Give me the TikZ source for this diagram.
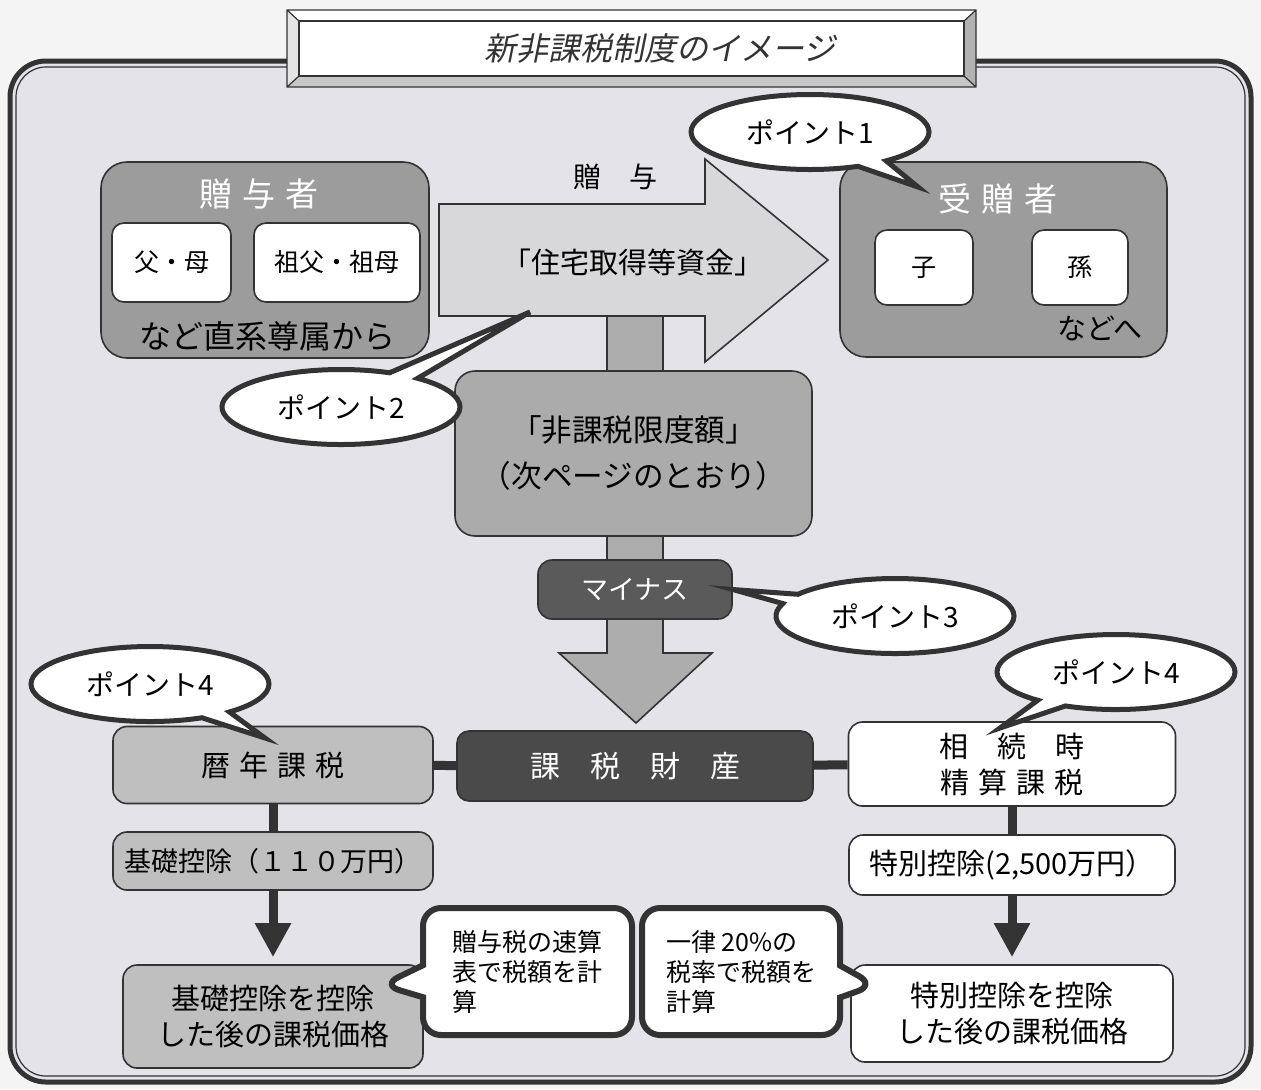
\documentclass[tikz,border=0pt]{standalone}
\usepackage{fontspec}
\setmainfont{Noto Sans CJK JP}
\newfontfamily\titlefont[FakeSlant=0.2]{Noto Sans CJK JP}
\usetikzlibrary{arrows.meta,shapes.callouts}
\definecolor{ink}{HTML}{333333}
\definecolor{outside}{HTML}{F4F4F4}
\definecolor{paper}{HTML}{E3E3E8}
\definecolor{partygray}{HTML}{9C9C9C}
\definecolor{fundgray}{HTML}{D8D8DA}
\definecolor{shaftgray}{HTML}{ADADAD}
\definecolor{limitgray}{HTML}{ABABAB}
\definecolor{minusgray}{HTML}{5A5A5A}
\definecolor{yeargray}{HTML}{BFBFBF}
\definecolor{basegray}{HTML}{4A4A4A}
\newcommand{\jgap}{\hspace{0.3em}}

\begin{document}
\begin{tikzpicture}[x=0.5pt,y=-0.5pt,
  box/.style={draw=ink,line width=0.8pt,rounded corners=6pt,
    align=center,inner sep=0pt},
  party/.style={box,fill=partygray,rounded corners=13pt},
  partyhead/.style={text=white,font=\fontsize{16.5}{20}\selectfont},
  member/.style={box,fill=white,font=\fontsize{12.5}{15}\selectfont},
  stage/.style={box,fill=yeargray,rounded corners=7pt,
    font=\fontsize{14.5}{18}\selectfont},
  whitebox/.style={stage,fill=white},
  link/.style={draw=ink,line width=4.5pt},
  down/.style={link,-{Triangle[length=17pt,width=17pt]},shorten >=3.5pt},
  pointcall/.style={ellipse callout,draw=ink,line width=2.5pt,fill=white,
    inner sep=0pt,minimum width=119pt,minimum height=37.5pt,
    callout pointer arc=16,font=\fontsize{14}{17}\selectfont},
  note/.style={rectangle callout,draw=ink,line width=3pt,fill=white,
    rounded corners=9pt,align=left,inner sep=0pt,minimum height=63.5pt,
    callout pointer width=16pt,font=\fontsize{12.5}{15}\selectfont}
]
\path[use as bounding box,fill=outside] (0,0) rectangle (1261,1089);
\draw[draw=ink,line width=2.5pt,fill=paper,rounded corners=18pt]
  (10,61) rectangle (1251,1082);
\draw[draw=ink,line width=0.6pt,rounded corners=15pt]
  (16,67) rectangle (1245,1076);

% bevelled title plate
\fill[black!10] (287,10) rectangle (976,87);
\fill[white] (287,10) -- (976,10) -- (964,21) -- (299,21) -- cycle;
\fill[black!30] (976,10) -- (976,87) -- (964,76) -- (964,21) -- cycle;
\fill[black!22] (287,87) -- (976,87) -- (964,76) -- (299,76) -- cycle;
\draw[ink,line width=0.6pt] (287,10) rectangle (976,87)
  (287,10) -- (299,21) (976,10) -- (964,21)
  (287,87) -- (299,76) (976,87) -- (964,76);
\node[draw=ink,line width=0.6pt,fill=white,inner sep=0pt,
  minimum width=332.5pt,minimum height=27.5pt] (titleface) at (631.5,48.5) {};
\node[font=\fontsize{16}{19}\selectfont\titlefont,text=ink] (title) at (660,48)
  {新非課税制度のイメージ};

\draw[draw=ink,line width=0.8pt,fill=shaftgray] (607,300) -- (607,653)
  -- (559,653) -- (636,723) -- (712,653) -- (663,653) -- (663,300);
\draw[draw=ink,line width=0.8pt,fill=fundgray] (439,204) -- (705,204)
  -- (705,159) -- (828,260) -- (705,362) -- (705,316) -- (439,316) -- cycle;
\node[font=\fontsize{14}{17}\selectfont] (gift) at (615,177) {贈　与};
\node[font=\fontsize{14.5}{17}\selectfont] (funds) at (633,262)
  {「住宅取得等資金」};

\node[party,minimum width=164pt,minimum height=98pt] (donor) at (265,260) {};
\node[partyhead] (donorhead) at (259,194) {贈\jgap 与\jgap 者};
\node[member,minimum width=59.5pt,minimum height=39.5pt] (parents)
  at (171.5,262.5) {父・母};
\node[member,minimum width=83pt,minimum height=39.5pt] (grandparents)
  at (337,262.5) {祖父・祖母};
\node[font=\fontsize{16}{19}\selectfont] (lineal) at (267,336)
  {など直系尊属から};

\node[party,minimum width=163.5pt,minimum height=97.5pt] (donee)
  at (1003.5,259.5) {};
\node[partyhead] (doneehead) at (998,199) {受\jgap 贈\jgap 者};
\node[member,minimum width=49pt,minimum height=37.5pt] (child)
  at (924,267.5) {子};
\node[member,minimum width=48pt,minimum height=37.5pt] (grandchild)
  at (1080,267.5) {孫};
\node[font=\fontsize{14.5}{17}\selectfont] (onward) at (1100,328) {などへ};

\node[box,fill=limitgray,rounded corners=10pt,minimum width=178.5pt,
  minimum height=82.5pt,font=\fontsize{15.3}{23}\selectfont] (limit)
  at (633.5,453.5) {「非課税限度額」\\（次ページのとおり）};
\node[box,fill=minusgray,text=white,rounded corners=7pt,minimum width=97pt,
  minimum height=29.5pt,font=\fontsize{13.5}{16}\selectfont] (minus)
  at (635,589.5) {マイナス};
\node[box,fill=basegray,text=white,minimum width=178pt,minimum height=35pt,
  font=\fontsize{15}{18}\selectfont] (taxbase) at (635,766) {課　税　財　産};

\node[stage,minimum width=160pt,minimum height=38.5pt] (calendar)
  at (273,765) {暦\jgap 年\jgap 課\jgap 税};
\node[stage,minimum width=160pt,minimum height=29pt,
  font=\fontsize{13.5}{16}\selectfont] (basic)
  at (273,861) {基礎控除（１１０万円）};
\node[stage,minimum width=150pt,minimum height=51.5pt] (basicafter)
  at (273,1016.5) {基礎控除を控除\\した後の課税価格};
\node[whitebox,minimum width=163.5pt,minimum height=42pt] (settle)
  at (1012,764) {相　続　時\\精\jgap 算\jgap 課\jgap 税};
\node[whitebox,minimum width=163pt,minimum height=30pt] (special)
  at (1012,865) {特別控除(2,500万円）};
\node[whitebox,minimum width=161pt,minimum height=48.5pt] (specialafter)
  at (1012,1013.5) {特別控除を控除\\した後の課税価格};

\draw[link] (calendar) -- (taxbase);
\draw[link] (taxbase) -- (settle);
\draw[link] (calendar) -- (basic);
\draw[link] (settle) -- (special);
\draw[down] (basic) -- (basicafter);
\draw[down] (special) -- (specialafter);

\coordinate (tip1) at (918,187);
\coordinate (tip2) at (530,312);
\coordinate (tip4a) at (265,738);
\coordinate (tip4b) at (1000,728);
\coordinate (tipA) at (382,985);
\coordinate (tipB) at (875,985);

\node[note,minimum width=104.5pt,callout absolute pointer={(tipA)}] (quick)
  at (527.5,971.5) {贈与税の速算\\表で税額を計\\算};
\node[note,minimum width=99pt,callout absolute pointer={(tipB)}] (flat)
  at (741,971.5) {一律 20\%の\\税率で税額を\\計算};
\node[pointcall,callout absolute pointer={(tip1)}] (point1) at (810,132)
  {ポイント1};
\node[pointcall,callout absolute pointer={(tip2)}] (point2) at (341,407)
  {ポイント2};
\node[pointcall,callout absolute pointer={(minus.east)}] (point3)
  at (895,616) {ポイント3};
\node[pointcall,callout absolute pointer={(tip4a)}] (point4a) at (150,684)
  {ポイント4};
\node[pointcall,callout absolute pointer={(tip4b)}] (point4b) at (1116,672)
  {ポイント4};
\end{tikzpicture}
\end{document}
